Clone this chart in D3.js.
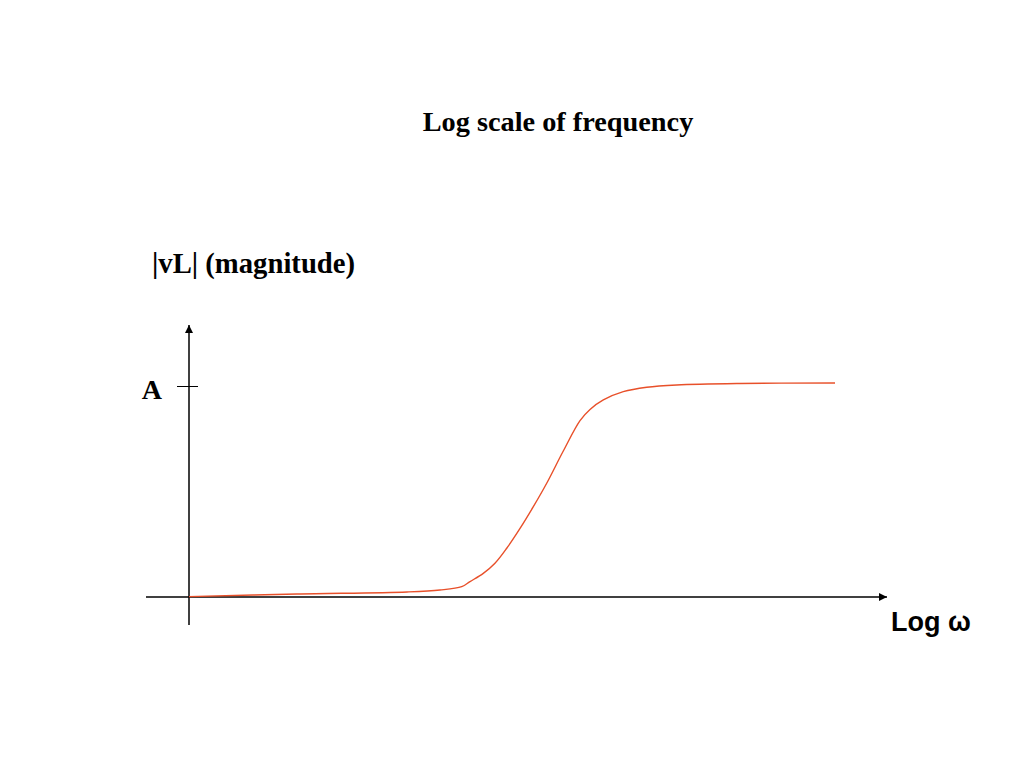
<!DOCTYPE html>
<html><head><meta charset="utf-8">
<script src="https://cdn.jsdelivr.net/npm/d3@7"></script>
<style>body{margin:0;background:#fff}svg{display:block}</style>
</head><body>
<script>
// Data: log-frequency position (arbitrary units) vs magnitude (A = 1)
const logOmega = [0, 15.43, 31.14, 35.86, 38.96, 40.14, 42.04, 43.71, 45.39, 47.29, 49.19, 51.10, 53.47, 55.86, 57.29, 59.19, 62.04, 65.39, 69.67, 78.71, 92.29];
const magnitude = [0.002, 0.014, 0.024, 0.033, 0.049, 0.073, 0.112, 0.160, 0.231, 0.325, 0.428, 0.539, 0.692, 0.836, 0.889, 0.934, 0.973, 0.994, 1.005, 1.012, 1.014];
const yTickValues = [1];
const yTickLabels = ["A"];
const titleText = "Log scale of frequency";
const yLabelText = "|vL| (magnitude)";
const xLabelText = "Log ω";

const W = 1024, H = 768;
const svg = d3.select("body").append("svg").attr("width", W).attr("height", H);

const x = d3.scaleLinear().domain([0, 100]).range([189, 889]);
const y = d3.scaleLinear().domain([0, 1]).range([597, 386]);

const defs = svg.append("defs");
defs.append("marker").attr("id", "arr").attr("viewBox", "0 0 10 10")
  .attr("refX", 10).attr("refY", 5).attr("markerWidth", 10).attr("markerHeight", 8)
  .attr("markerUnits", "userSpaceOnUse").attr("orient", "auto")
  .append("path").attr("d", "M0,0 L10,5 L0,10 Z").attr("fill", "#000");

svg.append("line").attr("x1", 146).attr("x2", x(100) - 2).attr("y1", y(0)).attr("y2", y(0))
  .attr("stroke", "#000").attr("stroke-width", 1.5).attr("marker-end", "url(#arr)");
svg.append("line").attr("x1", x(0)).attr("x2", x(0)).attr("y1", 625).attr("y2", 325)
  .attr("stroke", "#000").attr("stroke-width", 1.5).attr("marker-end", "url(#arr)");

const yAxis = d3.axisLeft(y).tickValues(yTickValues).tickSize(0).tickFormat((d, i) => yTickLabels[i]);
const ga = svg.append("g").attr("transform", `translate(${x(0)},0)`).call(yAxis);
ga.select(".domain").remove();
ga.selectAll(".tick text").attr("x", -27).attr("dy", "0.45em")
  .attr("font-family", "Liberation Serif, Times New Roman, serif").attr("font-weight", "bold")
  .attr("font-size", 28).attr("fill", "#000");
ga.selectAll(".tick").append("line").attr("x1", -12).attr("x2", 9).attr("stroke", "#000").attr("stroke-width", 1);

const pts = logOmega.map((v, i) => [v, magnitude[i]]);
svg.append("path").datum(pts)
  .attr("d", d3.line().x(d => x(d[0])).y(d => y(d[1])).curve(d3.curveCatmullRom.alpha(0.5)))
  .attr("fill", "none").attr("stroke", "#e8502a").attr("stroke-width", 1.4);

svg.append("text").attr("x", 558).attr("y", 131).attr("text-anchor", "middle")
  .attr("font-family", "Liberation Serif, Times New Roman, serif").attr("font-weight", "bold")
  .attr("font-size", 28.3).text(titleText);
svg.append("text").attr("x", 152).attr("y", 273)
  .attr("font-family", "Liberation Serif, Times New Roman, serif").attr("font-weight", "bold")
  .attr("font-size", 28.7).text(yLabelText);
svg.append("text").attr("x", 891).attr("y", 631)
  .attr("font-family", "Liberation Sans, Arial, sans-serif").attr("font-weight", "bold")
  .attr("font-size", 27).text(xLabelText);
</script>
</body></html>
